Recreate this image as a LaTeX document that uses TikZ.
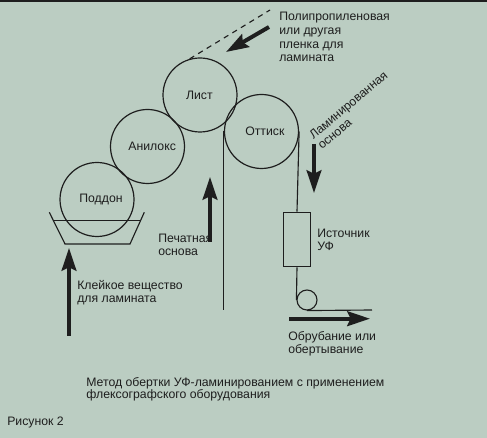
\documentclass[tikz,border=0pt]{standalone}
\usepackage{fontspec}
\setmainfont{Liberation Sans}
\usetikzlibrary{arrows.meta,calc}
\definecolor{bg}{RGB}{187,205,194}
\definecolor{ink}{RGB}{30,30,30}
\begin{document}
\begin{tikzpicture}[x=0.75pt,y=-0.75pt,
  every node/.style={font=\fontsize{9.2}{10}\selectfont, text=ink, inner sep=0pt},
  txt/.style={align=left, anchor=base west},
  roll/.style={circle, draw=ink, line width=0.9pt, minimum size=55.5pt},
  thin/.style={draw=ink, line width=0.85pt},
  bigarrow/.style={draw=ink, line width=3pt, -{Stealth[length=17pt,width=11pt,inset=2.5pt]}},
]
\fill[bg] (0,0) rectangle (487,438);
\useasboundingbox (0,0) rectangle (487,438);
\draw[ink, line width=1.5pt] (0,1) -- (487,1);

% rollers
\node[roll, label={[xshift=-0.5pt]center:Лист}] (list) at (200,95) {};
\node[roll, label={[xshift=2.5pt]center:Оттиск}] (ottisk) at (261.5,131.5) {};
\node[roll, label={[xshift=3.5pt]center:Анилокс}] (anilox) at (147.5,146.5) {};
\node[roll, label={[xshift=3pt]center:Поддон}] (poddon) at (97,199.5) {};

% tray
\coordinate (trTL) at (49.3,212.3);
\coordinate (trBL) at (65,244);
\coordinate (trBR) at (130,244);
\coordinate (trTR) at (144.3,212.3);
\draw[thin] (trTL) -- (trBL) -- (trBR) -- (trTR);
\draw[thin] ($(trTL)!0.2625!(trBL)$) -- ($(trTR)!0.2625!(trBR)$);

% film (dashed)
\coordinate (filmend) at (270,10);
\draw[ink, line width=0.85pt, dash pattern=on 4pt off 3.5pt] (list.106) -- (filmend);
\coordinate (fa1) at (269,27);
\coordinate (fa2) at (226,52);
\draw[bigarrow] (fa1) -- (fa2);
\node[txt, font=\fontsize{9.2}{10.3}\selectfont] (poly) at (279,61.8) {Полипропиленовая\\или другая\\пленка для\\ламината};

% printed substrate
\coordinate (pbot) at (225,310);
\draw[thin] (ottisk.west) -- (ottisk.west |- pbot);
\coordinate (pa1) at (210,242);
\coordinate (pa2) at (210,177);
\draw[bigarrow] (pa1) -- (pa2);
\node[txt] (pechat) at (158,256) {Печатная\\основа};

% adhesive
\coordinate (ka1) at (69,336);
\coordinate (ka2) at (69,248);
\draw[bigarrow] (ka1) -- (ka2);
\node[txt] (kleik) at (77,302.6) {Клейкое вещество\\для ламината};

% laminated substrate path
\node[draw=ink, line width=0.85pt, minimum width=20.5pt, minimum height=41pt] (uv) at (297,239.5) {};
\node[circle, draw=ink, line width=0.85pt, minimum size=15pt] (roller) at (307,300) {};
\coordinate (outend) at (372,310);
\draw[thin] (ottisk.east) -- (uv.north);
\draw[thin] (uv.south) -- (roller.west);
\draw[thin] (roller.south) -- (outend);
\node[txt] (ist) at (317,250.6) {Источник\\УФ};

\coordinate (la1) at (314,144);
\coordinate (la2) at (314,193);
\draw[bigarrow] (la1) -- (la2);
\node[txt, rotate=40] (lam) at (322,150) {Ламинированная\\основа};

\coordinate (oa1) at (289,318.7);
\coordinate (oa2) at (370,318.7);
\draw[bigarrow] (oa1) -- (oa2);
\node[txt] (obr) at (288,353.6) {Обрубание или\\обертывание};

% captions
\node[txt, font=\fontsize{9.2}{9.5}\selectfont] (cap) at (86,398.7) {Метод обертки УФ-ламинированием с применением\\флексографского оборудования};
\node[txt] (ris) at (7,425.7) {Рисунок 2};
\end{tikzpicture}
\end{document}
